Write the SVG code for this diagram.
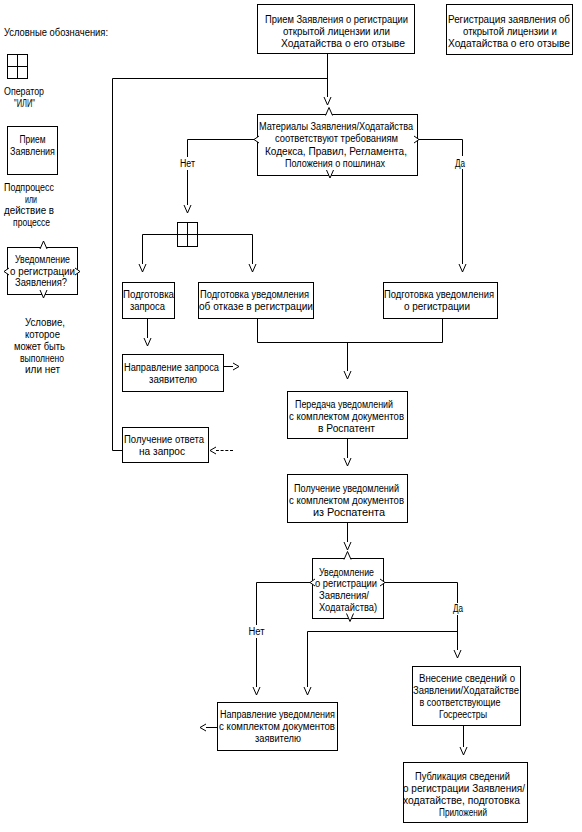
<svg xmlns="http://www.w3.org/2000/svg" width="582" height="832" viewBox="0 0 582 832">
<style>
.box{fill:#fff;stroke:#000;stroke-width:1}
.ln{fill:none;stroke:#000;stroke-width:1}
.dash{stroke-dasharray:3,1.7}
.dec{fill:#fff;stroke:#000;stroke-width:1}
.t{font-family:"Liberation Sans",Arial,sans-serif;font-size:10px;fill:#000;text-anchor:middle}
.s{text-anchor:start}
</style>
<defs>
<marker id="v" markerUnits="userSpaceOnUse" markerWidth="20" markerHeight="20" refX="0" refY="0" orient="auto" style="overflow:visible"><path d="M0,-3.5 L8,0 L0,3.5" fill="none" stroke="#000"/></marker>
<marker id="h" markerUnits="userSpaceOnUse" markerWidth="20" markerHeight="20" refX="0" refY="0" orient="auto" style="overflow:visible"><path d="M0,-3.5 L6,0 L0,3.5" fill="none" stroke="#000"/></marker>
<path id="dtop" class="dec" d="M-3.5,0 L0,-8 L3.5,0"/>
<path id="dbot" class="dec" d="M-3.5,0 L0,8 L3.5,0"/>
<path id="dleft" class="dec" d="M5,-3.5 L0,0 L5,3.5"/>
<path id="dright" class="dec" d="M-5,-3.5 L0,0 L-5,3.5"/>
</defs>
<rect width="582" height="832" fill="#fff"/>

<g id="legend">
<text class="t s" x="4" y="36" textLength="104" lengthAdjust="spacingAndGlyphs">Условные обозначения:</text>
<g id="legend-or">
<rect class="box" x="7.5" y="54.5" width="20" height="24"/>
<path class="ln" d="M17.5,54.5 V78.5 M7.5,66.5 H27.5"/>
<text class="t s" x="4" y="95" textLength="40" lengthAdjust="spacingAndGlyphs">Оператор</text>
<text class="t" x="24.5" y="106.5" textLength="21" lengthAdjust="spacingAndGlyphs">"ИЛИ"</text>
</g>
<g id="legend-process">
<rect class="box" x="7.5" y="126.5" width="50" height="48"/>
<text class="t" x="32.5" y="143" textLength="26" lengthAdjust="spacingAndGlyphs">Прием</text>
<text class="t" x="32.5" y="155" textLength="45" lengthAdjust="spacingAndGlyphs">Заявления</text>
<text class="t" x="29" y="191" textLength="50" lengthAdjust="spacingAndGlyphs">Подпроцесс</text>
<text class="t" x="31" y="202.5" textLength="12" lengthAdjust="spacingAndGlyphs">или</text>
<text class="t" x="29" y="214" textLength="50" lengthAdjust="spacingAndGlyphs">действие в</text>
<text class="t" x="31.5" y="225.5" textLength="37" lengthAdjust="spacingAndGlyphs">процессе</text>
</g>
<g id="legend-decision">
<rect class="box" x="7.5" y="247.5" width="70" height="47"/>
<use href="#dtop" x="43.5" y="249"/>
<use href="#dbot" x="43.5" y="290"/>
<use href="#dleft" x="4" y="271.5"/>
<use href="#dright" x="80" y="271.5"/>
<text class="t" x="42.5" y="263" textLength="55" lengthAdjust="spacingAndGlyphs">Уведомление</text>
<text class="t" x="42.5" y="274.5" textLength="65" lengthAdjust="spacingAndGlyphs">о регистрации</text>
<text class="t" x="41" y="286" textLength="52" lengthAdjust="spacingAndGlyphs">Заявления?</text>
<text class="t" x="45" y="326" textLength="40" lengthAdjust="spacingAndGlyphs">Условие,</text>
<text class="t" x="42.5" y="338" textLength="35" lengthAdjust="spacingAndGlyphs">которое</text>
<text class="t" x="39.5" y="350" textLength="51" lengthAdjust="spacingAndGlyphs">может быть</text>
<text class="t" x="42" y="361.5" textLength="44" lengthAdjust="spacingAndGlyphs">выполнено</text>
<text class="t" x="42.5" y="373" textLength="35" lengthAdjust="spacingAndGlyphs">или нет</text>
</g>
</g>

<g id="connectors">
<path class="ln" d="M327.5,53 V97" marker-end="url(#v)"/>
<path class="ln" d="M122,450.5 H112.5 V78.5 H327.5"/>
<path class="ln" d="M254,139.5 H187.5 V157"/>
<path class="ln" d="M187.5,170 V205" marker-end="url(#v)"/>
<path class="ln" d="M142.5,234.5 H177.5 M197.5,234.5 H252.5"/>
<path class="ln" d="M142.5,234.5 V264" marker-end="url(#v)"/>
<path class="ln" d="M252.5,234.5 V264" marker-end="url(#v)"/>
<path class="ln" d="M419,139.5 H462.5 V156"/>
<path class="ln" d="M462.5,169 V264" marker-end="url(#v)"/>
<path class="ln" d="M147.5,318 V338" marker-end="url(#v)"/>
<path class="ln" d="M257.5,318 V342.5 H442.5 V318"/>
<path class="ln" d="M347.5,342.5 V371" marker-end="url(#v)"/>
<path class="ln" d="M223,366.5 H233" marker-end="url(#h)"/>
<path class="ln dash" d="M233,450.5 H216" marker-end="url(#h)"/>
<path class="ln" d="M347.5,438 V458" marker-end="url(#v)"/>
<path class="ln" d="M347.5,522 V542" marker-end="url(#v)"/>
<path class="ln" d="M310,582.5 H256.5 V625"/>
<path class="ln" d="M256.5,638 V687" marker-end="url(#v)"/>
<path class="ln" d="M385,582.5 H457.5 V603"/>
<path class="ln" d="M457.5,615 V650" marker-end="url(#v)"/>
<path class="ln" d="M457.5,631.5 H307.5 V687" marker-end="url(#v)"/>
<path class="ln" d="M463.5,725 V747" marker-end="url(#v)"/>
<path class="ln" d="M217,727.5 H206" marker-end="url(#h)"/>
<text class="t" x="187.5" y="167" textLength="15" lengthAdjust="spacingAndGlyphs">Нет</text>
<text class="t" x="460" y="166.5" textLength="10" lengthAdjust="spacingAndGlyphs">Да</text>
<text class="t" x="256.5" y="635" textLength="16" lengthAdjust="spacingAndGlyphs">Нет</text>
<text class="t" x="458" y="612" textLength="10" lengthAdjust="spacingAndGlyphs">Да</text>
</g>

<g id="n-start">
<rect class="box" x="257.5" y="4.5" width="157" height="49"/>
<text class="t" x="336.5" y="22.5" textLength="143" lengthAdjust="spacingAndGlyphs">Прием Заявления о регистрации</text>
<text class="t" x="336.5" y="34.5" textLength="107" lengthAdjust="spacingAndGlyphs">открытой лицензии или</text>
<text class="t" x="343" y="46.5" textLength="124" lengthAdjust="spacingAndGlyphs">Ходатайства о его отзыве</text>
</g>

<g id="n-title">
<rect class="box" x="446.5" y="4.5" width="126" height="50"/>
<text class="t" x="509" y="22.5" textLength="122" lengthAdjust="spacingAndGlyphs">Регистрация заявления об</text>
<text class="t" x="510" y="34.5" textLength="94" lengthAdjust="spacingAndGlyphs">открытой лицензии и</text>
<text class="t" x="509" y="46.5" textLength="122" lengthAdjust="spacingAndGlyphs">Ходатайства о его отзыве</text>
</g>

<g id="n-check">
<rect class="box" x="257.5" y="114.5" width="160" height="61"/>
<use href="#dtop" x="329" y="115.5"/>
<use href="#dbot" x="330" y="170"/>
<use href="#dleft" x="254" y="139.5"/>
<use href="#dright" x="419" y="139.5"/>
<text class="t" x="336" y="130" textLength="154" lengthAdjust="spacingAndGlyphs">Материалы Заявления/Ходатайства</text>
<text class="t" x="336.5" y="142" textLength="123" lengthAdjust="spacingAndGlyphs">соответствуют требованиям</text>
<text class="t" x="336" y="154.5" textLength="142" lengthAdjust="spacingAndGlyphs">Кодекса, Правил, Регламента,</text>
<text class="t" x="335" y="166.5" textLength="100" lengthAdjust="spacingAndGlyphs">Положения о пошлинах</text>
</g>

<g id="n-or">
<rect class="box" x="177.5" y="222.5" width="20" height="24"/>
<path class="ln" d="M187.5,222.5 V246.5 M177.5,234.5 H197.5"/>
</g>

<g id="n-request">
<rect class="box" x="122.5" y="282.5" width="52" height="36"/>
<text class="t" x="148.5" y="297.5" textLength="51" lengthAdjust="spacingAndGlyphs">Подготовка</text>
<text class="t" x="147.5" y="309.5" textLength="35" lengthAdjust="spacingAndGlyphs">запроса</text>
</g>

<g id="n-refusal">
<rect class="box" x="198.5" y="282.5" width="115" height="36"/>
<text class="t" x="254.5" y="297.5" textLength="109" lengthAdjust="spacingAndGlyphs">Подготовка уведомления</text>
<text class="t" x="256" y="309.5" textLength="114" lengthAdjust="spacingAndGlyphs">об отказе в регистрации</text>
</g>

<g id="n-notice">
<rect class="box" x="383.5" y="282.5" width="114" height="36"/>
<text class="t" x="439" y="297.5" textLength="110" lengthAdjust="spacingAndGlyphs">Подготовка уведомления</text>
<text class="t" x="437" y="309.5" textLength="66" lengthAdjust="spacingAndGlyphs">о регистрации</text>
</g>

<g id="n-send-request">
<rect class="box" x="122.5" y="354.5" width="101" height="37"/>
<text class="t" x="171.5" y="371" textLength="95" lengthAdjust="spacingAndGlyphs">Направление запроса</text>
<text class="t" x="173" y="383" textLength="48" lengthAdjust="spacingAndGlyphs">заявителю</text>
</g>

<g id="n-answer">
<rect class="box" x="122.5" y="427.5" width="86" height="35"/>
<text class="t" x="164" y="443" textLength="80" lengthAdjust="spacingAndGlyphs">Получение ответа</text>
<text class="t" x="162" y="455" textLength="46" lengthAdjust="spacingAndGlyphs">на запрос</text>
</g>

<g id="n-transfer">
<rect class="box" x="287.5" y="391.5" width="120" height="47"/>
<text class="t" x="344" y="408" textLength="98" lengthAdjust="spacingAndGlyphs">Передача уведомлений</text>
<text class="t" x="346.5" y="420" textLength="115" lengthAdjust="spacingAndGlyphs">с комплектом документов</text>
<text class="t" x="346.5" y="432" textLength="57" lengthAdjust="spacingAndGlyphs">в Роспатент</text>
</g>

<g id="n-receive">
<rect class="box" x="287.5" y="474.5" width="120" height="48"/>
<text class="t" x="346.5" y="492" textLength="105" lengthAdjust="spacingAndGlyphs">Получение уведомлений</text>
<text class="t" x="346.5" y="504" textLength="115" lengthAdjust="spacingAndGlyphs">с комплектом документов</text>
<text class="t" x="349" y="516" textLength="72" lengthAdjust="spacingAndGlyphs">из Роспатента</text>
</g>

<g id="n-decision2">
<rect class="box" x="312.5" y="558.5" width="71" height="60"/>
<use href="#dtop" x="347.5" y="559.5"/>
<use href="#dbot" x="350" y="613.5"/>
<use href="#dleft" x="310" y="582.5"/>
<use href="#dright" x="385" y="582.5"/>
<text class="t" x="346.5" y="575.5" textLength="55" lengthAdjust="spacingAndGlyphs">Уведомление</text>
<text class="t" x="346" y="587" textLength="62" lengthAdjust="spacingAndGlyphs">о регистрации</text>
<text class="t" x="344" y="599" textLength="50" lengthAdjust="spacingAndGlyphs">Заявления/</text>
<text class="t" x="348" y="610.5" textLength="58" lengthAdjust="spacingAndGlyphs">Ходатайства)</text>
</g>

<g id="n-send-notice">
<rect class="box" x="217.5" y="702.5" width="120" height="48"/>
<text class="t" x="277.5" y="718" textLength="115" lengthAdjust="spacingAndGlyphs">Направление уведомления</text>
<text class="t" x="277" y="730" textLength="116" lengthAdjust="spacingAndGlyphs">с комплектом документов</text>
<text class="t" x="278" y="742" textLength="46" lengthAdjust="spacingAndGlyphs">заявителю</text>
</g>

<g id="n-registry">
<rect class="box" x="412.5" y="666.5" width="108" height="59"/>
<text class="t" x="467" y="682" textLength="96" lengthAdjust="spacingAndGlyphs">Внесение сведений о</text>
<text class="t" x="466" y="694" textLength="106" lengthAdjust="spacingAndGlyphs">Заявлении/Ходатайстве</text>
<text class="t" x="460" y="706" textLength="81" lengthAdjust="spacingAndGlyphs">в соответствующие</text>
<text class="t" x="463" y="718" textLength="48" lengthAdjust="spacingAndGlyphs">Госреестры</text>
</g>

<g id="n-publish">
<rect class="box" x="403.5" y="762.5" width="124" height="60"/>
<text class="t" x="462.5" y="780" textLength="95" lengthAdjust="spacingAndGlyphs">Публикация сведений</text>
<text class="t" x="464" y="792" textLength="122" lengthAdjust="spacingAndGlyphs">о регистрации Заявления/</text>
<text class="t" x="461.5" y="804" textLength="117" lengthAdjust="spacingAndGlyphs">ходатайстве, подготовка</text>
<text class="t" x="463" y="816" textLength="48" lengthAdjust="spacingAndGlyphs">Приложений</text>
</g>
</svg>
